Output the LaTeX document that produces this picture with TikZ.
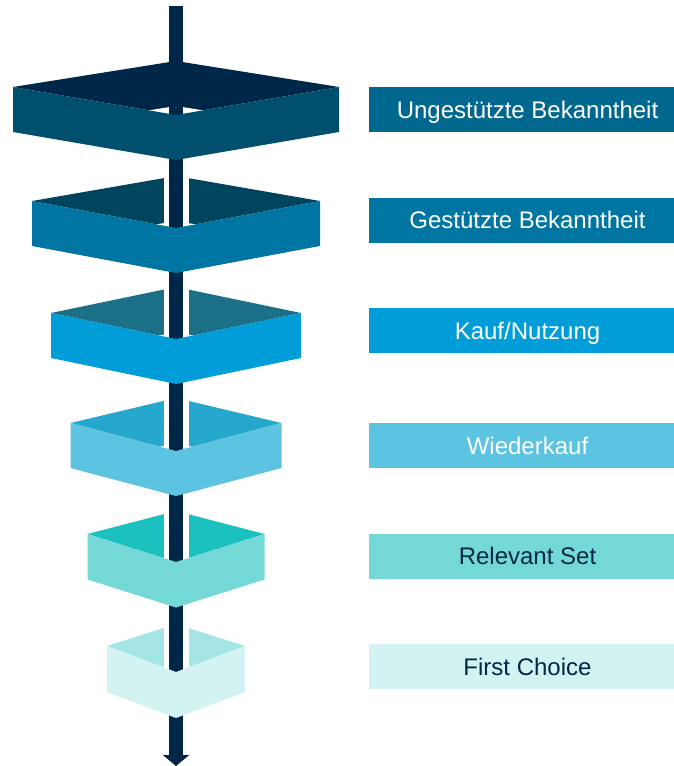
\documentclass[tikz,border=0pt]{standalone}
\usepackage{fontspec}
\setmainfont{Liberation Sans}
\usepackage{tikz}
\usetikzlibrary{arrows.meta}
\definecolor{deepnavy}{RGB}{0,38,72}
\definecolor{petrolshade}{RGB}{0,79,110}
\definecolor{petrol}{RGB}{0,103,143}
\definecolor{darkteal}{RGB}{0,68,94}
\definecolor{oceanblue}{RGB}{0,117,162}
\definecolor{slateteal}{RGB}{27,111,135}
\definecolor{brightblue}{RGB}{0,157,217}
\definecolor{midsky}{RGB}{38,168,206}
\definecolor{skyblue}{RGB}{92,195,224}
\definecolor{turquoise}{RGB}{27,193,190}
\definecolor{softaqua}{RGB}{116,217,214}
\definecolor{lightaqua}{RGB}{164,230,229}
\definecolor{paleaqua}{RGB}{210,243,242}

\newcommand{\labelfont}{\fontsize{24}{28}\selectfont}

% back walls seen from above: top y, half width, side y, front y, height, colour
\newcommand{\ringback}[6]{%
    \fill[#6] (176,#1) -- ({176-#2},#3) -- (176,#4) -- ({176+#2},#3) -- cycle;
    \fill[white] (176,{#1+#5}) -- ({176-#2},{#3+#5}) -- (176,{#4+#5}) -- ({176+#2},{#3+#5}) -- cycle;
}
% front walls: half width, side y, front y, height, colour
\newcommand{\ringfront}[5]{%
    \fill[#5] ({176-#1},#2) -- (176,#3) -- (176,{#3+#4}) -- ({176-#1},{#2+#4}) -- cycle;
    \fill[#5] ({176+#1},#2) -- (176,#3) -- (176,{#3+#4}) -- ({176+#1},{#2+#4}) -- cycle;
}

\tikzset{stagelabel/.style={minimum width=317pt, minimum height=45pt, inner sep=0pt,
        text height=17pt, text depth=0pt, font=\labelfont}}

\begin{document}
\begin{tikzpicture}[x=1pt, y=-1pt]
        \useasboundingbox (0,0) rectangle (674,766);

        \ringback{61}{163}{87}{115}{45}{deepnavy}
        \ringback{176}{144}{201}{228}{45}{darkteal}
        \ringback{287}{125}{313}{339}{45}{slateteal}
        \ringback{398}{105.5}{423}{451}{45}{midsky}
        \ringback{511}{88.5}{534}{562}{45.5}{turquoise}
        \ringback{624}{69}{646}{672}{46}{lightaqua}

        \coordinate (shafttop)  at (176,6);
        \coordinate (gapstart)  at (176,165);
        \coordinate (gapend)    at (176,735);
        \coordinate (shafttip)  at (176,766);

        \draw[white, line width=25pt] (gapstart) -- (gapend);
        \draw[deepnavy, line width=14pt, -{Triangle[width=26pt, length=11pt]}] (shafttop) -- (shafttip);

        \ringfront{163}{87}{115}{45}{petrolshade}
        \ringfront{144}{201}{228}{45}{oceanblue}
        \ringfront{125}{313}{339}{45}{brightblue}
        \ringfront{105.5}{423}{451}{45}{skyblue}
        \ringfront{88.5}{534}{562}{45.5}{softaqua}
        \ringfront{69}{646}{672}{46}{paleaqua}

        \node[stagelabel, fill=petrol,     text=white]    (ungestuetzt) at (527.5,109.5) {Ungestützte Bekanntheit};
        \node[stagelabel, fill=oceanblue,  text=white]    (gestuetzt)   at (527.5,220)   {Gestützte Bekanntheit};
        \node[stagelabel, fill=brightblue, text=white]    (kauf)        at (527.5,330.5) {Kauf/Nutzung};
        \node[stagelabel, fill=skyblue,    text=white]    (wiederkauf)  at (527.5,445.5) {Wiederkauf};
        \node[stagelabel, fill=softaqua,   text=deepnavy] (relevant)    at (527.5,556)   {Relevant Set};
        \node[stagelabel, fill=paleaqua,   text=deepnavy] (firstchoice) at (527.5,666.5) {First Choice};
    \end{tikzpicture}
\end{document}
